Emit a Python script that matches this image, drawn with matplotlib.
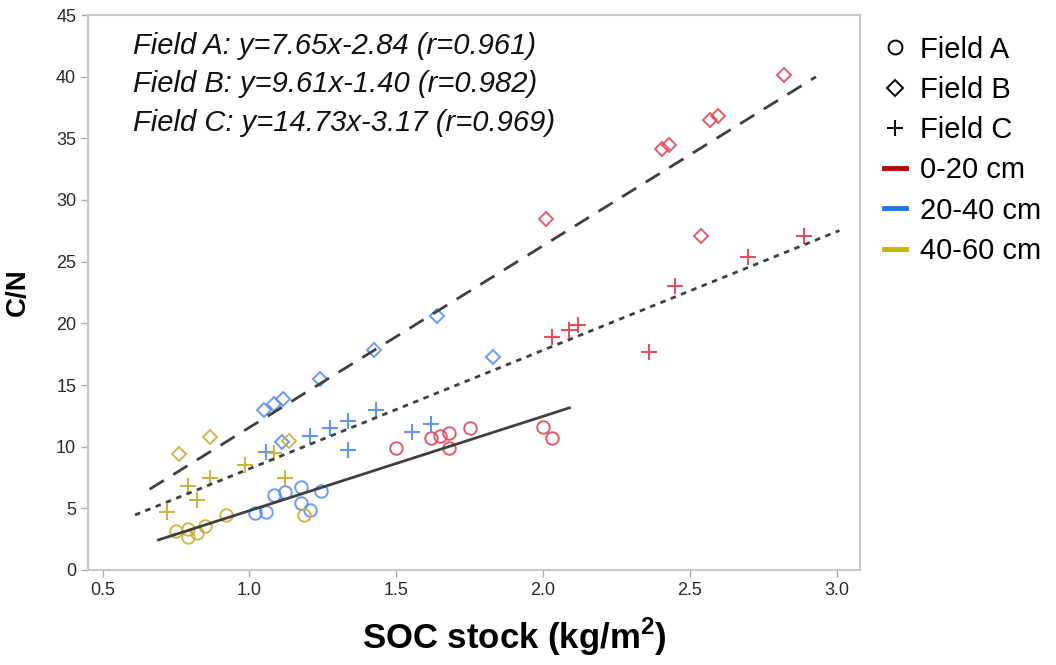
import matplotlib
matplotlib.use('Agg')
import matplotlib.pyplot as plt
from matplotlib.lines import Line2D

plt.rcParams['font.family'] = ['Liberation Sans', 'DejaVu Sans']

# SOC stock (x) and C/N (y) by field and depth
a_red_x = [1.50, 1.62, 1.65, 1.68, 1.68, 1.75, 2.00, 2.03]
a_red_y = [9.9, 10.7, 10.9, 11.1, 9.9, 11.5, 11.6, 10.7]
a_blue_x = [1.02, 1.055, 1.085, 1.12, 1.175, 1.175, 1.205, 1.245]
a_blue_y = [4.6, 4.7, 6.1, 6.3, 6.7, 5.4, 4.9, 6.4]
a_yel_x = [0.75, 0.79, 0.79, 0.82, 0.85, 0.92, 1.185]
a_yel_y = [3.2, 3.3, 2.7, 3.0, 3.6, 4.5, 4.5]

b_red_x = [2.01, 2.82, 2.57, 2.595, 2.405, 2.43, 2.54]
b_red_y = [28.5, 40.1, 36.5, 36.8, 34.1, 34.5, 27.1]
b_blue_x = [1.05, 1.085, 1.115, 1.11, 1.24, 1.425, 1.64, 1.83]
b_blue_y = [13.0, 13.5, 13.9, 10.4, 15.5, 17.8, 20.6, 17.3]
b_yel_x = [0.76, 0.865, 1.135]
b_yel_y = [9.4, 10.8, 10.5]

c_red_x = [2.89, 2.70, 2.45, 2.03, 2.09, 2.12, 2.36]
c_red_y = [27.1, 25.4, 23.0, 18.9, 19.5, 19.9, 17.7]
c_blue_x = [1.055, 1.205, 1.275, 1.335, 1.335, 1.43, 1.555, 1.62]
c_blue_y = [9.6, 10.9, 11.5, 12.1, 9.7, 13.0, 11.2, 11.8]
c_yel_x = [0.72, 0.79, 0.82, 0.865, 0.985, 1.085, 1.12]
c_yel_y = [4.7, 6.8, 5.7, 7.5, 8.5, 9.5, 7.5]

# regression lines: slope, intercept, x range
fit_solid = (7.65, -2.84, 0.69, 2.09)
fit_dash = (14.73, -3.17, 0.66, 2.93)
fit_dot = (9.61, -1.40, 0.61, 3.01)

eq_labels = ['Field A: y=7.65x-2.84 (r=0.961)',
             'Field B: y=9.61x-1.40 (r=0.982)',
             'Field C: y=14.73x-3.17 (r=0.969)']

red = '#dd4a5a'
blue = '#5b8ff5'
yel = '#c4b23a'

fig = plt.figure(figsize=(10.56, 6.65), dpi=100)
ax = fig.add_axes([88/1056, 95/665, 772/1056, 555/665])

ms = 9
for xs, ys, c in [(a_red_x, a_red_y, red), (a_blue_x, a_blue_y, blue), (a_yel_x, a_yel_y, yel)]:
    ax.plot(xs, ys, 'o', ms=ms, mfc='none', mec=c, mew=1.4, alpha=0.9)
for xs, ys, c in [(b_red_x, b_red_y, red), (b_blue_x, b_blue_y, blue), (b_yel_x, b_yel_y, yel)]:
    ax.plot(xs, ys, 'D', ms=ms - 1.5, mfc='none', mec=c, mew=1.4, alpha=0.9)
for xs, ys, c in [(c_red_x, c_red_y, red), (c_blue_x, c_blue_y, blue), (c_yel_x, c_yel_y, yel)]:
    ax.plot(xs, ys, '+', ms=ms + 3, mec=c, mew=1.5, alpha=0.95)

for (m, b, x0, x1), ls in [(fit_solid, '-'), (fit_dash, (0, (6, 4))), (fit_dot, (0, (2, 2)))]:
    ax.plot([x0, x1], [m * x0 + b, m * x1 + b], color='#404040', lw=2, ls=ls)

ax.set_xlim(0.45, 3.08)
ax.set_ylim(0, 45)
ax.set_xticks([0.5, 1.0, 1.5, 2.0, 2.5, 3.0])
ax.set_yticks(range(0, 46, 5))
ax.set_xticklabels(['0.5', '1.0', '1.5', '2.0', '2.5', '3.0'])
for s in ax.spines.values():
    s.set_color('#c8c8c8')
    s.set_linewidth(1.5)
ax.tick_params(colors='#aaaaaa', labelcolor='#2a2a2a', labelsize=13, length=5, width=1)

ax.set_xlabel('SOC stock (kg/m$^\\mathregular{2}$)', fontsize=25, fontweight='bold')
ax.xaxis.set_label_coords(0.552, -0.082)
ax.set_ylabel('C/N', fontsize=20, fontweight='bold', labelpad=18)

for i, t in enumerate(eq_labels):
    ax.text(0.058, 0.944 - i * 0.069, t, transform=ax.transAxes, fontsize=21,
            style='italic', va='center', ha='left', color='#111111')

handles = [
    Line2D([], [], ls='none', marker='o', ms=10, mfc='none', mec='black', mew=1.4),
    Line2D([], [], ls='none', marker='D', ms=8.5, mfc='none', mec='black', mew=1.4),
    Line2D([], [], ls='none', marker='+', ms=12, mec='black', mew=1.4),
    Line2D([], [], color='#c00000', lw=3.5),
    Line2D([], [], color='#1a75ff', lw=3.5),
    Line2D([], [], color='#c8b400', lw=3.5),
]
labels = ['Field A', 'Field B', 'Field C', '0-20 cm', '20-40 cm', '40-60 cm']
fig.legend(handles, labels, loc='upper left', bbox_to_anchor=(872/1056, 1 - 24/665),
           frameon=False, fontsize=21, handlelength=0.75, handletextpad=0.5,
           labelspacing=0.42, borderaxespad=0)

fig.savefig('out.png', dpi=100)
